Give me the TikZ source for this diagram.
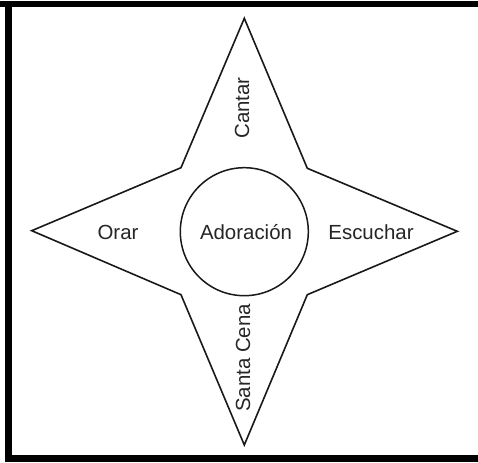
\documentclass[tikz,border=0pt]{standalone}
\usepackage{fontspec}
\setmainfont{Liberation Sans}
\begin{document}
\begin{tikzpicture}[x=1bp,y=-1bp,
  lbl/.style={font=\fontsize{20.5}{24}\selectfont, text=black!85, inner sep=0pt},
  starline/.style={draw=black!90, line width=1.6bp, line join=miter},
  ringline/.style={draw=black!90, line width=1.5bp}]
\useasboundingbox (0,0) rectangle (478,463);
\fill[white] (0,0) rectangle (478,463);
% frame (open on the right)
\fill[black] (0,1) rectangle (478,7.5);
\fill[black] (5,1) rectangle (12,462);
\fill[black] (5,454.5) rectangle (478,462);
% star
\coordinate (T) at (244.3,18.3);
\coordinate (R) at (457.3,231.3);
\coordinate (B) at (244.3,445);
\coordinate (L) at (31.7,230.7);
\coordinate (UR) at (307.3,168.3);
\coordinate (LR) at (307.3,294.7);
\coordinate (LL) at (181,294.7);
\coordinate (UL) at (181,167.7);
\draw[starline] (T) -- (UR) -- (R) -- (LR) -- (B) -- (LL) -- (L) -- (UL) -- cycle;
% center circle
\node[ringline, circle, minimum size=128bp, inner sep=0pt] (ring) at (244.3,231.7) {};
\node[lbl] (ador) at (246,232) {Adoración};
\node[lbl] (orar) at (118,232) {Orar};
\node[lbl] (escu) at (371,232) {Escuchar};
\node[lbl, rotate=90] (cant) at (242,108) {Cantar};
\node[lbl, rotate=90] (cena) at (243,358) {Santa Cena};
\end{tikzpicture}
\end{document}
